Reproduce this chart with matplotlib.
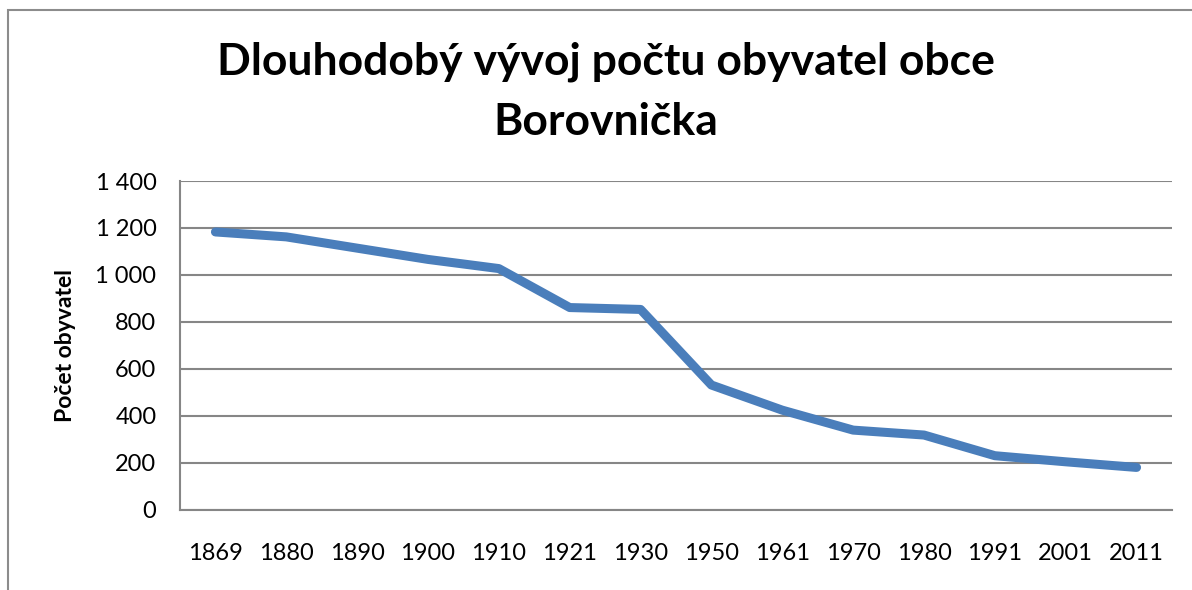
import matplotlib.pyplot as plt
from matplotlib.patches import Rectangle
from matplotlib.ticker import FuncFormatter

years = ['1869', '1880', '1890', '1900', '1910', '1921', '1930',
         '1950', '1961', '1970', '1980', '1991', '2001', '2011']
population = [1183, 1162, 1114, 1066, 1027, 861, 853,
              531, 424, 339, 318, 230, 204, 180]

title = 'Dlouhodobý vývoj počtu obyvatel obce\nBorovnička'
ylabel = 'Počet obyvatel'

plt.rcParams['font.family'] = ['Lato', 'DejaVu Sans']
grey = '#868686'

fig = plt.figure(figsize=(11.92, 5.9), dpi=100)
ax = fig.add_axes([180 / 1192, 1 - 509.7 / 590, 992 / 1192, 328.7 / 590])

x = range(len(years))
ax.plot(x, population, color='#4a7ebb', linewidth=6.5, solid_capstyle='round',
        solid_joinstyle='round')

ax.set_xlim(-0.5, len(years) - 0.5)
ax.set_ylim(0, 1400)
ax.set_yticks(range(0, 1401, 200))
ax.yaxis.set_major_formatter(FuncFormatter(lambda v, p: f'{int(v):,}'.replace(',', ' ')))
ax.set_xticks(list(x))
ax.set_xticklabels(years)
ax.tick_params(axis='both', length=0, labelsize=17)
ax.tick_params(axis='x', pad=24)
ax.tick_params(axis='y', pad=17)

ax.grid(axis='y', color=grey, linewidth=1.5)
ax.set_axisbelow(True)
for s in ['top', 'right']:
    ax.spines[s].set_visible(False)
for s in ['left', 'bottom']:
    ax.spines[s].set_color(grey)
    ax.spines[s].set_linewidth(1.5)

ax.set_ylabel(ylabel, fontsize=16.5, fontweight='bold', labelpad=14)
fig.text(606 / 1192, 1 - 92 / 590, title, ha='center', va='center',
         fontsize=32, fontweight='bold', linespacing=1.6)

# outer chart border
fig.patches.append(Rectangle((8 / 1192, -0.1), 1.2, 1.1 - 10 / 590,
                             transform=fig.transFigure, fill=False,
                             edgecolor='#8c8c8c', linewidth=1.5))

fig.savefig('out.png', dpi=100)
